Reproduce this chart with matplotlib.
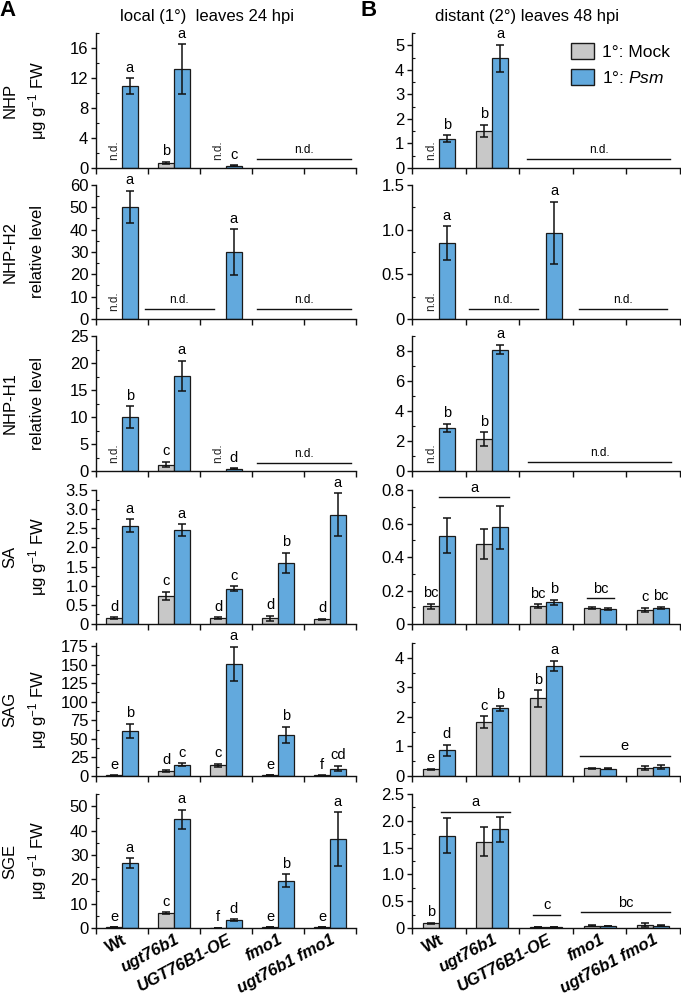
import numpy as np
import matplotlib
matplotlib.use('Agg')
import matplotlib.pyplot as plt
from matplotlib.ticker import MultipleLocator, FuncFormatter
from matplotlib.patches import Patch

plt.rcParams['font.family'] = ['Liberation Sans', 'DejaVu Sans']
plt.rcParams['mathtext.fontset'] = 'custom'
plt.rcParams['mathtext.rm'] = 'Liberation Sans'
plt.rcParams['mathtext.it'] = 'Liberation Sans:italic'
plt.rcParams['mathtext.bf'] = 'Liberation Sans:bold'

nan = np.nan
genotypes = ['Wt', 'ugt76b1', 'UGT76B1-OE', 'fmo1', 'ugt76b1 fmo1']
italic_genotype = [False, True, True, True, True]

# ---------------- Column A: local (1°) leaves 24 hpi ----------------
nhp_l_mock = [nan, 0.7, nan, nan, nan]
nhp_l_mock_err = [nan, 0.15, nan, nan, nan]
nhp_l_psm = [10.9, 13.2, 0.3, nan, nan]
nhp_l_psm_err = [1.1, 3.3, 0.05, nan, nan]
nhp_l_mock_let = ['n.d.', 'b', 'n.d.', '', '']
nhp_l_psm_let = ['a', 'a', 'c', '', '']
nhp_l_lines = [(3.1, 4.9, 1.2, 'n.d.')]

h2_l_mock = [nan, nan, nan, nan, nan]
h2_l_mock_err = [nan, nan, nan, nan, nan]
h2_l_psm = [50.2, nan, 30.0, nan, nan]
h2_l_psm_err = [7.3, nan, 10.2, nan, nan]
h2_l_mock_let = ['n.d.', '', '', '', '']
h2_l_psm_let = ['a', '', 'a', '', '']
h2_l_lines = [(0.95, 2.26, 4.5, 'n.d.'), (3.1, 4.9, 4.5, 'n.d.')]

h1_l_mock = [nan, 1.2, nan, nan, nan]
h1_l_mock_err = [nan, 0.5, nan, nan, nan]
h1_l_psm = [10.0, 17.6, 0.4, nan, nan]
h1_l_psm_err = [1.95, 2.85, 0.1, nan, nan]
h1_l_mock_let = ['n.d.', 'c', 'n.d.', '', '']
h1_l_psm_let = ['b', 'a', 'd', '', '']
h1_l_lines = [(3.1, 4.9, 1.55, 'n.d.')]

sa_l_mock = [0.15, 0.73, 0.15, 0.15, 0.12]
sa_l_mock_err = [0.02, 0.11, 0.02, 0.07, 0.02]
sa_l_psm = [2.57, 2.46, 0.92, 1.59, 2.85]
sa_l_psm_err = [0.17, 0.15, 0.06, 0.27, 0.56]
sa_l_mock_let = ['d', 'c', 'd', 'd', 'd']
sa_l_psm_let = ['a', 'a', 'c', 'b', 'a']
sa_l_lines = []

sag_l_mock = [0.8, 6.5, 14.5, 1.0, 0.8]
sag_l_mock_err = [0.2, 1.0, 2.0, 0.3, 0.2]
sag_l_psm = [60.5, 15.0, 151.0, 55.5, 10.0]
sag_l_psm_err = [10.0, 2.0, 23.0, 10.5, 3.5]
sag_l_mock_let = ['e', 'd', 'c', 'e', 'f']
sag_l_psm_let = ['b', 'c', 'a', 'b', 'cd']
sag_l_lines = []

sge_l_mock = [0.3, 6.2, 0.05, 0.3, 0.3]
sge_l_mock_err = [0.05, 0.3, 0.02, 0.05, 0.05]
sge_l_psm = [26.6, 44.6, 3.2, 19.4, 36.6]
sge_l_psm_err = [2.1, 3.9, 0.4, 2.7, 11.0]
sge_l_mock_let = ['e', 'c', 'f', 'e', 'e']
sge_l_psm_let = ['a', 'a', 'd', 'b', 'a']
sge_l_lines = []

# ---------------- Column B: distant (2°) leaves 48 hpi ----------------
nhp_d_mock = [nan, 1.52, nan, nan, nan]
nhp_d_mock_err = [nan, 0.25, nan, nan, nan]
nhp_d_psm = [1.19, 4.47, nan, nan, nan]
nhp_d_psm_err = [0.15, 0.55, nan, nan, nan]
nhp_d_mock_let = ['n.d.', 'b', '', '', '']
nhp_d_psm_let = ['b', 'a', '', '', '']
nhp_d_lines = [(2.15, 4.81, 0.37, 'n.d.')]

h2_d_mock = [nan, nan, nan, nan, nan]
h2_d_mock_err = [nan, nan, nan, nan, nan]
h2_d_psm = [0.85, nan, 0.965, nan, nan]
h2_d_psm_err = [0.19, nan, 0.35, nan, nan]
h2_d_mock_let = ['n.d.', '', '', '', '']
h2_d_psm_let = ['a', '', 'a', '', '']
h2_d_lines = [(1.06, 2.35, 0.11, 'n.d.'), (3.11, 4.76, 0.11, 'n.d.')]

h1_d_mock = [nan, 2.12, nan, nan, nan]
h1_d_mock_err = [nan, 0.46, nan, nan, nan]
h1_d_psm = [2.86, 8.1, nan, nan, nan]
h1_d_psm_err = [0.28, 0.31, nan, nan, nan]
h1_d_mock_let = ['n.d.', 'b', '', '', '']
h1_d_psm_let = ['b', 'a', '', '', '']
h1_d_lines = [(2.17, 4.83, 0.63, 'n.d.')]

sa_d_mock = [0.105, 0.48, 0.105, 0.095, 0.085]
sa_d_mock_err = [0.015, 0.09, 0.012, 0.005, 0.012]
sa_d_psm = [0.527, 0.577, 0.13, 0.09, 0.095]
sa_d_psm_err = [0.105, 0.13, 0.015, 0.008, 0.008]
sa_d_mock_let = ['bc', '', 'bc', '', 'c']
sa_d_psm_let = ['', '', 'b', '', 'bc']
sa_d_lines = [(0.51, 1.81, 0.756, 'a'), (3.26, 3.77, 0.153, 'bc')]

sag_d_mock = [0.22, 1.83, 2.63, 0.26, 0.27]
sag_d_mock_err = [0.02, 0.19, 0.28, 0.01, 0.07]
sag_d_psm = [0.87, 2.29, 3.73, 0.25, 0.30]
sag_d_psm_err = [0.18, 0.09, 0.17, 0.01, 0.07]
sag_d_mock_let = ['e', 'c', 'b', '', '']
sag_d_psm_let = ['d', 'b', 'a', '', '']
sag_d_lines = [(3.13, 4.81, 0.67, 'e')]

sge_d_mock = [0.085, 1.61, 0.02, 0.045, 0.055]
sge_d_mock_err = [0.01, 0.27, 0.005, 0.005, 0.03]
sge_d_psm = [1.72, 1.84, 0.02, 0.035, 0.045]
sge_d_psm_err = [0.33, 0.23, 0.005, 0.005, 0.01]
sge_d_mock_let = ['b', '', '', '', '']
sge_d_psm_let = ['', '', '', '', '']
sge_d_lines = [(0.55, 1.83, 2.17, 'a'), (2.26, 2.77, 0.24, 'c'), (3.15, 4.81, 0.29, 'bc')]

row_names = ['NHP', 'NHP-H2', 'NHP-H1', 'SA', 'SAG', 'SGE']
row_units = [r'μg g$^{-1}$ FW', 'relative level', 'relative level',
             r'μg g$^{-1}$ FW', r'μg g$^{-1}$ FW', r'μg g$^{-1}$ FW']

left_panels = [
    (nhp_l_mock, nhp_l_mock_err, nhp_l_psm, nhp_l_psm_err, nhp_l_mock_let, nhp_l_psm_let, nhp_l_lines),
    (h2_l_mock, h2_l_mock_err, h2_l_psm, h2_l_psm_err, h2_l_mock_let, h2_l_psm_let, h2_l_lines),
    (h1_l_mock, h1_l_mock_err, h1_l_psm, h1_l_psm_err, h1_l_mock_let, h1_l_psm_let, h1_l_lines),
    (sa_l_mock, sa_l_mock_err, sa_l_psm, sa_l_psm_err, sa_l_mock_let, sa_l_psm_let, sa_l_lines),
    (sag_l_mock, sag_l_mock_err, sag_l_psm, sag_l_psm_err, sag_l_mock_let, sag_l_psm_let, sag_l_lines),
    (sge_l_mock, sge_l_mock_err, sge_l_psm, sge_l_psm_err, sge_l_mock_let, sge_l_psm_let, sge_l_lines),
]
right_panels = [
    (nhp_d_mock, nhp_d_mock_err, nhp_d_psm, nhp_d_psm_err, nhp_d_mock_let, nhp_d_psm_let, nhp_d_lines),
    (h2_d_mock, h2_d_mock_err, h2_d_psm, h2_d_psm_err, h2_d_mock_let, h2_d_psm_let, h2_d_lines),
    (h1_d_mock, h1_d_mock_err, h1_d_psm, h1_d_psm_err, h1_d_mock_let, h1_d_psm_let, h1_d_lines),
    (sa_d_mock, sa_d_mock_err, sa_d_psm, sa_d_psm_err, sa_d_mock_let, sa_d_psm_let, sa_d_lines),
    (sag_d_mock, sag_d_mock_err, sag_d_psm, sag_d_psm_err, sag_d_mock_let, sag_d_psm_let, sag_d_lines),
    (sge_d_mock, sge_d_mock_err, sge_d_psm, sge_d_psm_err, sge_d_mock_let, sge_d_psm_let, sge_d_lines),
]

left_ylim = [18, 60, 25, 3.5, 179, 55]
left_major = [4, 10, 5, 0.5, 25, 10]
left_dec = [0, 0, 0, 1, 0, 0]
right_ylim = [5.5, 1.5, 9, 0.8, 4.5, 2.5]
right_major = [1, 0.5, 2, 0.2, 1, 0.5]
right_dec = [0, 1, 0, 1, 0, 1]

GRAY = '#c8c8c8'
BLUE = '#62a9dd'
EDGE = '#1a1a1a'

W, H = 681, 997
fig = plt.figure(figsize=(W / 100, H / 100), dpi=100)

row_px = [(33, 168), (185, 319), (336, 471), (490, 624), (643, 776), (794, 928)]
col_px = [(96, 356), (412, 680)]


def make_fmt(dec):
    def f(v, pos):
        if abs(v) < 1e-9:
            return '0'
        return f'{v:.{dec}f}'
    return FuncFormatter(f)


def draw_panel(ax, data, ylim, major, dec, bottom):
    mock, mock_e, psm, psm_e, mlet, plet, lines = data
    n = len(mock)
    idx = np.arange(n)
    bw = 0.3
    xm = idx + 0.5 - bw / 2
    xp = idx + 0.5 + bw / 2
    for xs, vals, errs, col, lets in [(xm, mock, mock_e, GRAY, mlet), (xp, psm, psm_e, BLUE, plet)]:
        vals = np.asarray(vals, float)
        errs = np.asarray(errs, float)
        ok = ~np.isnan(vals)
        ax.bar(xs[ok], vals[ok], width=bw, color=col, edgecolor=EDGE, linewidth=0.9, zorder=2)
        ax.errorbar(xs[ok], vals[ok], yerr=errs[ok], fmt='none', ecolor='#111111',
                    elinewidth=1.1, capsize=3, capthick=1.1, zorder=3)
        for x, v, e, t in zip(xs, vals, errs, lets):
            if not t:
                continue
            if t == 'n.d.':
                ax.annotate('n.d.', (x, 0), xytext=(0, 6), textcoords='offset points',
                            rotation=90, ha='center', va='bottom', fontsize=8.5,
                            color='#222222', annotation_clip=False)
            else:
                top = v + (0 if np.isnan(e) else e)
                ax.annotate(t, (x, top), xytext=(0, 2.5), textcoords='offset points',
                            ha='center', va='bottom', fontsize=10.5,
                            annotation_clip=False)
    for x0, x1, y, t in lines:
        ax.plot([x0, x1], [y, y], color='#111111', lw=1.0, zorder=3, clip_on=False)
        fs = 8.5 if t == 'n.d.' else 10.5
        ax.annotate(t, ((x0 + x1) / 2, y), xytext=(0, 2), textcoords='offset points',
                    ha='center', va='bottom', fontsize=fs, annotation_clip=False)
    ax.set_xlim(0, n)
    ax.set_ylim(0, ylim)
    for s in ['top', 'right']:
        ax.spines[s].set_visible(False)
    for s in ['left', 'bottom']:
        ax.spines[s].set_linewidth(1.0)
        ax.spines[s].set_color('#111111')
    ax.yaxis.set_major_locator(MultipleLocator(major))
    ax.yaxis.set_minor_locator(MultipleLocator(major / 2))
    ax.yaxis.set_major_formatter(make_fmt(dec))
    ax.tick_params(axis='y', which='major', direction='out', length=3.5, width=1.0,
                   labelsize=12, pad=2, color='#111111')
    ax.tick_params(axis='y', which='minor', direction='in', length=2.5, width=0.8, color='#111111')
    ax.set_xticks(np.arange(n + 1))
    ax.set_xticklabels([])
    ax.tick_params(axis='x', which='major', direction='out', length=4.5, width=1.0, color='#111111')
    ax.set_xticks(idx + 0.5, minor=True)
    ax.tick_params(axis='x', which='minor', length=0, pad=3)
    if bottom:
        labs = ax.set_xticklabels(genotypes, minor=True, rotation=28, ha='right',
                                  rotation_mode='anchor', fontsize=12, fontweight='bold')
        for lab, it in zip(labs, italic_genotype):
            if it:
                lab.set_style('italic')


axes = []
for r in range(6):
    t, b = row_px[r]
    for c in range(2):
        l, rr = col_px[c]
        ax = fig.add_axes([l / W, 1 - b / H, (rr - l) / W, (b - t) / H])
        if c == 0:
            draw_panel(ax, left_panels[r], left_ylim[r], left_major[r], left_dec[r], r == 5)
        else:
            draw_panel(ax, right_panels[r], right_ylim[r], right_major[r], right_dec[r], r == 5)
        axes.append(ax)
    yc = 1 - (t + b) / 2 / H
    fig.text(10 / W, yc, row_names[r], rotation=90, ha='center', va='center', fontsize=12)
    fig.text(38 / W, yc, row_units[r], rotation=90, ha='center', va='center', fontsize=12)

fig.text(207 / W, 1 - 16 / H, 'local (1°)  leaves 24 hpi', ha='center', va='center', fontsize=12)
fig.text(527 / W, 1 - 17 / H, 'distant (2°) leaves 48 hpi', ha='center', va='center', fontsize=12)
fig.text(8 / W, 1 - 10 / H, 'A', ha='center', va='center', fontsize=16, fontweight='bold')
fig.text(369 / W, 1 - 10 / H, 'B', ha='center', va='center', fontsize=16, fontweight='bold')

handles = [Patch(facecolor=GRAY, edgecolor=EDGE, linewidth=1.0),
           Patch(facecolor=BLUE, edgecolor=EDGE, linewidth=1.0)]
axes[1].legend(handles, ['1°: Mock', r'1°: $\mathit{Psm}$'], loc='upper left',
               bbox_to_anchor=(571 / W, 1 - 43 / H), bbox_transform=fig.transFigure,
               frameon=False, fontsize=12.5, handlelength=1.3, handleheight=1.0,
               handletextpad=0.5, labelspacing=0.55, borderpad=0, borderaxespad=0)

fig.savefig('out.png', dpi=100)
